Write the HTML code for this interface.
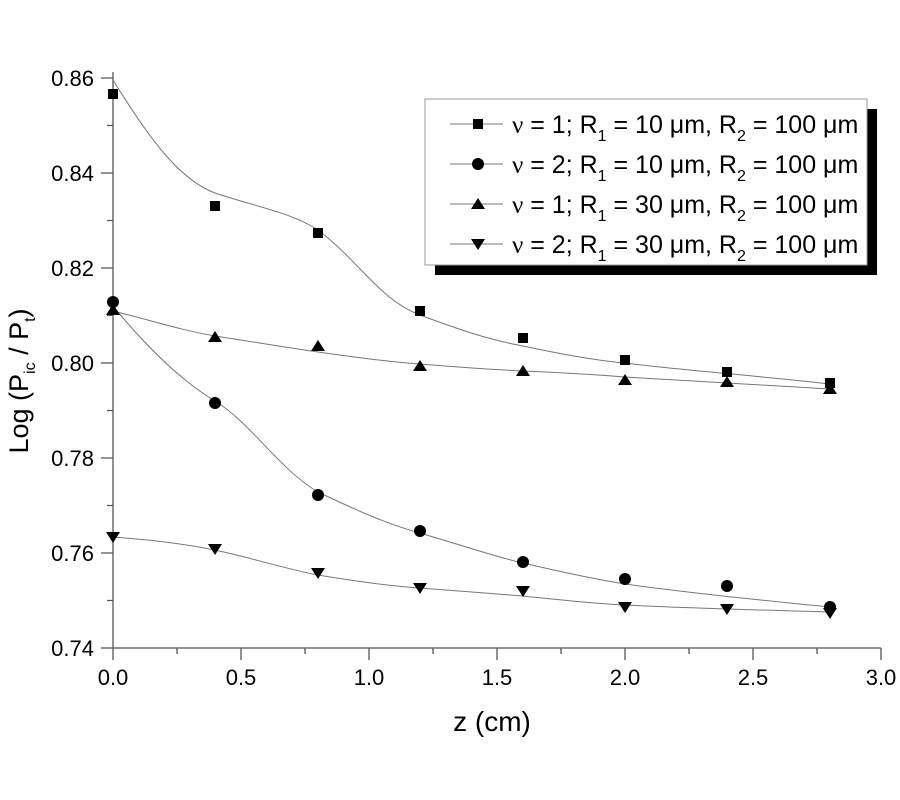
<!DOCTYPE html>
<html><head><style>body{margin:0;background:#fff}svg{display:block}text{font-family:"Liberation Sans",sans-serif;fill:#000}</style></head><body>
<svg width="900" height="800" viewBox="0 0 900 800">
<g stroke="#555" stroke-width="1.3" fill="none">
<line x1="113" y1="72" x2="113" y2="648"/>
<line x1="113" y1="648" x2="881" y2="648"/>
<path d="M101 78H113M101 173H113M101 268H113M101 363H113M101 458H113M101 553H113M101 648H113M107 125.5H113M107 220.5H113M107 315.5H113M107 410.5H113M107 505.5H113M107 600.5H113"/>
<path d="M113 648V660M241 648V660M369 648V660M497 648V660M625 648V660M753 648V660M881 648V660M177 648V654M305 648V654M433 648V654M561 648V654M689 648V654M817 648V654"/>
</g>
<g font-size="22" text-anchor="end">
<text x="94" y="86">0.86</text><text x="94" y="181">0.84</text><text x="94" y="276">0.82</text><text x="94" y="371">0.80</text><text x="94" y="466">0.78</text><text x="94" y="561">0.76</text><text x="94" y="656">0.74</text>
</g>
<g font-size="22" text-anchor="middle">
<text x="113" y="685">0.0</text><text x="241" y="685">0.5</text><text x="369" y="685">1.0</text><text x="497" y="685">1.5</text><text x="625" y="685">2.0</text><text x="753" y="685">2.5</text><text x="881" y="685">3.0</text>
<text x="492" y="731" font-size="28">z (cm)</text>
</g>
<text transform="translate(28,381) rotate(-90)" font-size="27" text-anchor="middle">Log (P<tspan font-size="16" dy="7">ic</tspan><tspan dy="-7"> / P</tspan><tspan font-size="16" dy="7">t</tspan><tspan dy="-7">)</tspan></text>
<g stroke="#777" stroke-width="1" fill="none">
<path d="M113 80C150 140 180 180 215 193C260 208 290 212 318 230C360 262 380 300 420 315C460 330 490 340 523 346C570 356 600 361 625 363C680 370 760 376 830 384"/>
<path d="M113 306C145 345 180 380 215 401C250 422 280 470 318 492C360 512 390 525 420 533C470 548 500 558 523 563C570 574 600 580 625 584C680 592 760 600 830 607"/>
<path d="M113 311C150 320 180 330 215 336C260 343 290 348 318 352C360 358 390 362 420 364C470 368 500 370 523 371C570 373 600 375 625 377C680 380 760 385 830 389"/>
<path d="M113 537C150 540 180 543 215 550C260 560 290 570 318 575C360 582 390 586 420 588C470 592 500 594 523 596C570 601 600 604 625 605C680 608 760 610 830 612"/>
</g>
<g fill="#000">
<path d="M108 89h10v10h-10zM210 201h10v10h-10zM313 228h10v10h-10zM415 306h10v10h-10zM518 333h10v10h-10zM620 355h10v10h-10zM722 367h10v10h-10zM825 378h10v10h-10z"/>
<circle cx="113" cy="302" r="6"/><circle cx="215" cy="403" r="6"/><circle cx="318" cy="495" r="6"/><circle cx="420" cy="531" r="6"/><circle cx="523" cy="562" r="6"/><circle cx="625" cy="579" r="6"/><circle cx="727" cy="586" r="6"/><circle cx="830" cy="607" r="6"/>
<path d="M113 304l-7 11h14zM215 331l-7 11h14zM318 340l-7 11h14zM420 360l-7 11h14zM523 365l-7 11h14zM625 374l-7 11h14zM727 376l-7 11h14zM830 383l-7 11h14z"/>
<path d="M113 543l-7 -11h14zM215 555l-7 -11h14zM318 579l-7 -11h14zM420 594l-7 -11h14zM523 597l-7 -11h14zM625 613l-7 -11h14zM727 615l-7 -11h14zM830 619l-7 -11h14z"/>
</g>
<rect x="435" y="109" width="442" height="166" fill="#000"/>
<rect x="425" y="99" width="442" height="166" fill="#fff" stroke="#999" stroke-width="1"/>
<g stroke="#777" stroke-width="1"><path d="M450 124H503M450 164H503M450 204H503M450 244H503"/></g>
<g fill="#000"><rect x="473" y="119" width="10" height="10"/><circle cx="478" cy="164" r="6"/><path d="M478 198l-7 11h14zM478 250l-7 -11h14z"/></g>
<g font-size="25">
<text x="512" y="133"><tspan font-family="Liberation Serif">ν</tspan> = 1; R<tspan font-size="16" dy="8">1</tspan><tspan dy="-8"> = 10 μm, R</tspan><tspan font-size="16" dy="8">2</tspan><tspan dy="-8"> = 100 μm</tspan></text>
<text x="512" y="173"><tspan font-family="Liberation Serif">ν</tspan> = 2; R<tspan font-size="16" dy="8">1</tspan><tspan dy="-8"> = 10 μm, R</tspan><tspan font-size="16" dy="8">2</tspan><tspan dy="-8"> = 100 μm</tspan></text>
<text x="512" y="213"><tspan font-family="Liberation Serif">ν</tspan> = 1; R<tspan font-size="16" dy="8">1</tspan><tspan dy="-8"> = 30 μm, R</tspan><tspan font-size="16" dy="8">2</tspan><tspan dy="-8"> = 100 μm</tspan></text>
<text x="512" y="253"><tspan font-family="Liberation Serif">ν</tspan> = 2; R<tspan font-size="16" dy="8">1</tspan><tspan dy="-8"> = 30 μm, R</tspan><tspan font-size="16" dy="8">2</tspan><tspan dy="-8"> = 100 μm</tspan></text>
</g>
</svg>
</body></html>
